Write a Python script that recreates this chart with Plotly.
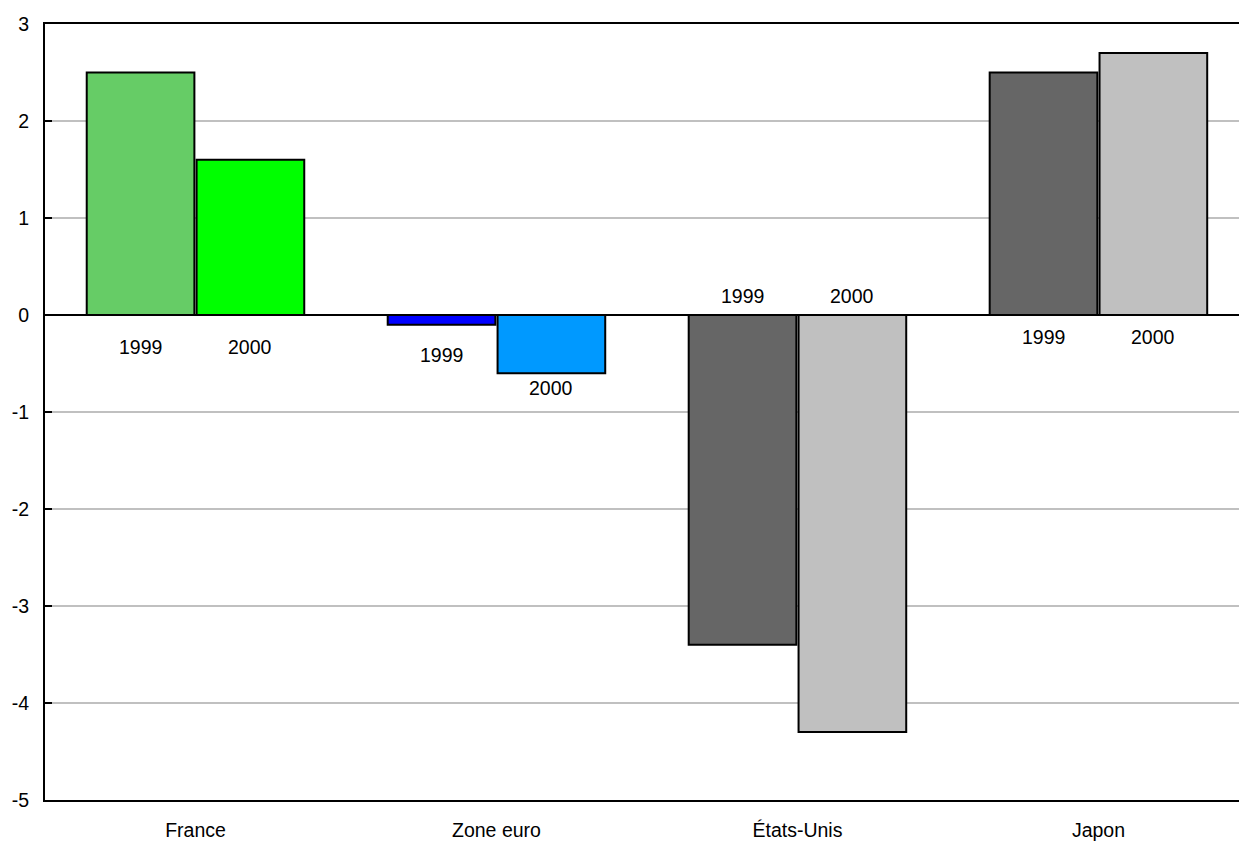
import plotly.graph_objects as go

categories = ["France", "Zone euro", "États-Unis", "Japon"]
years = ["1999", "2000"]
values_1999 = [2.5, -0.1, -3.4, 2.5]
values_2000 = [1.6, -0.6, -4.3, 2.7]
colors_1999 = ["#66CC66", "#0000FF", "#666666", "#666666"]
colors_2000 = ["#00FF00", "#0099FF", "#C0C0C0", "#C0C0C0"]
y_ticks = [3, 2, 1, 0, -1, -2, -3, -4, -5]
y_ticktext = ["3", "2", "1", "0", "-1", "-2", "-3", "-4", "-5"]

# vertical placement of the year labels (data units), per category
label_y_1999 = [-0.33, -0.41, 0.2, -0.23]
label_y_2000 = [-0.33, -0.75, 0.2, -0.23]

FONT = 19.5

fig = go.Figure()
fig.add_trace(go.Bar(x=categories, y=values_1999, name=years[0],
                     marker=dict(color=colors_1999, line=dict(color="black", width=2))))
fig.add_trace(go.Bar(x=categories, y=values_2000, name=years[1],
                     marker=dict(color=colors_2000, line=dict(color="black", width=2))))

offset = 0.73 / 4
annotations = []
for i in range(len(categories)):
    annotations.append(dict(x=i - offset, y=label_y_1999[i], text=years[0], showarrow=False,
                            xref="x", yref="y", font=dict(size=FONT, color="black")))
    annotations.append(dict(x=i + offset, y=label_y_2000[i], text=years[1], showarrow=False,
                            xref="x", yref="y", font=dict(size=FONT, color="black")))

fig.update_layout(
    width=1239, height=844,
    margin=dict(l=45, r=0, t=24, b=44),
    plot_bgcolor="white", paper_bgcolor="white",
    barmode="group", bargap=0.27, bargroupgap=0.02,
    showlegend=False,
    font=dict(family="Liberation Sans, Arial, sans-serif", size=FONT, color="black"),
    annotations=annotations,
    xaxis=dict(type="category", range=[-0.5, 3.467], showline=True, linecolor="black",
               linewidth=2, mirror=True, ticks="", showgrid=False,
               tickfont=dict(size=FONT), ticklabelstandoff=12),
    yaxis=dict(range=[-5, 3], tickvals=y_ticks, ticktext=y_ticktext, showline=True,
               linecolor="black", linewidth=2,
               ticks="inside", ticklen=7, tickwidth=2, tickcolor="black",
               showgrid=True, gridcolor="#C0C0C0", gridwidth=2,
               zeroline=True, zerolinecolor="black", zerolinewidth=2,
               tickfont=dict(size=FONT), ticklabelstandoff=10),
)

fig.write_html("out.html",
               config={"displayModeBar": False},
               post_script="document.body.style.margin='0';document.body.style.overflow='hidden';")
